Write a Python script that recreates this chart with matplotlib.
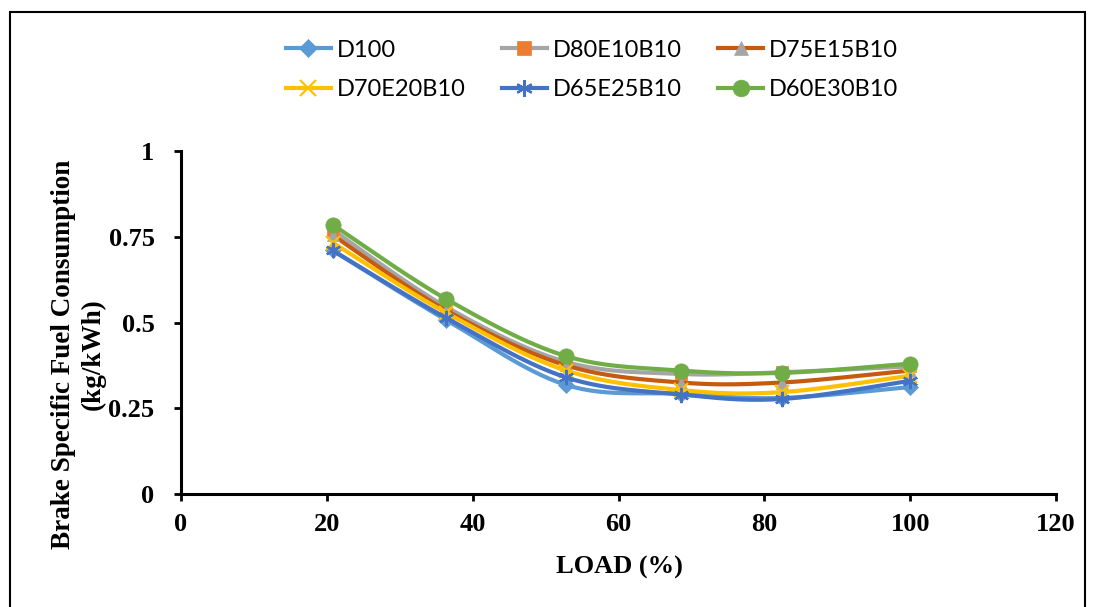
import numpy as np
import matplotlib
matplotlib.use("Agg")
import matplotlib.pyplot as plt
from matplotlib.patches import Rectangle

# ---- data ----
load = [20.8, 36.4, 52.8, 68.6, 82.4, 100.0]
series_names = ["D100", "D80E10B10", "D75E15B10", "D70E20B10", "D65E25B10", "D60E30B10"]
d100      = [0.710, 0.507, 0.318, 0.292, 0.280, 0.312]
d80e10b10 = [0.770, 0.545, 0.385, 0.350, 0.355, 0.372]
d75e15b10 = [0.755, 0.535, 0.375, 0.325, 0.325, 0.360]
d70e20b10 = [0.733, 0.528, 0.360, 0.303, 0.297, 0.345]
d65e25b10 = [0.710, 0.513, 0.340, 0.290, 0.277, 0.330]
d60e30b10 = [0.785, 0.568, 0.402, 0.360, 0.353, 0.380]
values = [d100, d80e10b10, d75e15b10, d70e20b10, d65e25b10, d60e30b10]
x_ticks = [0, 20, 40, 60, 80, 100, 120]
y_ticks = [0, 0.25, 0.5, 0.75, 1]
y_tick_labels = ["0", "0.25", "0.5", "0.75", "1"]

line_colors = ["#5B9BD5", "#A5A5A5", "#C55A11", "#FFC000", "#4472C4", "#70AD47"]
marker_face = ["#5B9BD5", "#ED7D31", "#A5A5A5", "#FFC000", "#4472C4", "#70AD47"]
markers = ["D", "s", "^", "x", (6, 2, 0), "o"]
msizes = [8, 9, 9, 10, 11, 11]


def smooth(x, y, n=30):
    """Excel-like smoothed line (Catmull-Rom Bezier through the points)."""
    x = np.asarray(x, float); y = np.asarray(y, float)
    P = np.column_stack([x, y])
    Pe = np.vstack([P[0], P, P[-1]])
    out = []
    t = np.linspace(0, 1, n)[:, None]
    for i in range(len(P) - 1):
        p0, p1, p2, p3 = Pe[i], Pe[i + 1], Pe[i + 2], Pe[i + 3]
        c1 = p1 + (p2 - p0) / 6.0
        c2 = p2 - (p3 - p1) / 6.0
        seg = ((1 - t) ** 3) * p1 + 3 * ((1 - t) ** 2) * t * c1 + 3 * (1 - t) * t ** 2 * c2 + t ** 3 * p2
        out.append(seg if i == 0 else seg[1:])
    out = np.vstack(out)
    return out[:, 0], out[:, 1]


W, H = 1095, 607
fig = plt.figure(figsize=(W / 100, H / 100), dpi=100)
fig.patch.set_facecolor("white")

ax = fig.add_axes([181 / W, 1 - 494 / H, (1056 - 181) / W, (494 - 151) / H])

serif = ["Liberation Serif", "DejaVu Serif"]

handles = []
for i, (name, vals) in enumerate(zip(series_names, values)):
    sx, sy = smooth(load, vals)
    ax.plot(sx, sy, color=line_colors[i], lw=3.0, zorder=2 + i * 2, solid_capstyle="round")
    mk = markers[i]
    is_line_marker = mk == "x" or isinstance(mk, tuple)
    ax.plot(load, vals, linestyle="none", marker=mk, ms=msizes[i],
            mfc=marker_face[i], mec=marker_face[i], mew=1.6 if is_line_marker else 0.5,
            zorder=3 + i * 2)
    h, = ax.plot([], [], color=line_colors[i], lw=3.0, marker=mk, ms=msizes[i] + 1,
                 mfc=marker_face[i], mec=marker_face[i], mew=1.6 if is_line_marker else 0.5,
                 label=name)
    handles.append(h)

ax.set_xlim(0, 120)
ax.set_ylim(0, 1)
ax.set_xticks(x_ticks)
ax.set_yticks(y_ticks)
ax.set_yticklabels(y_tick_labels)
for sp in ["top", "right"]:
    ax.spines[sp].set_visible(False)
for sp in ["left", "bottom"]:
    ax.spines[sp].set_linewidth(2.2)
    ax.spines[sp].set_color("black")
ax.tick_params(axis="both", direction="out", length=5, width=2.0, color="black")
ax.tick_params(axis="x", pad=9)
ax.tick_params(axis="y", pad=14)
for lab in ax.get_xticklabels() + ax.get_yticklabels():
    lab.set_fontfamily(serif)
    lab.set_fontweight("bold")
    lab.set_fontsize(19)

fig.text(619 / W, 1 - 567 / H, "LOAD (%)", ha="center", va="center",
         fontfamily=serif, fontweight="bold", fontsize=19)
fig.text(78 / W, 1 - 354 / H, "Brake Specific Fuel Consumption\n(kg/kWh)", ha="center",
         va="center", rotation=90, fontfamily=serif, fontweight="bold", fontsize=19.5,
         linespacing=1.25)

# row-wise ordering for a 3-column legend
order = [0, 3, 1, 4, 2, 5]
leg = fig.legend(handles=[handles[k] for k in order], loc="center",
                 bbox_to_anchor=(592 / W, 1 - 70 / H),
                 ncol=3, frameon=False, handlelength=1.9, handletextpad=0.25,
                 columnspacing=1.55, labelspacing=0.8, numpoints=1,
                 prop={"family": ["Lato", "DejaVu Sans"], "size": 17})

fig.add_artist(Rectangle((10 / W, -0.01), (1085 - 10) / W, 1 - 12 / H + 0.01,
                         transform=fig.transFigure, fill=False, edgecolor="black", lw=1.5))

fig.savefig("out.png", dpi=100)
